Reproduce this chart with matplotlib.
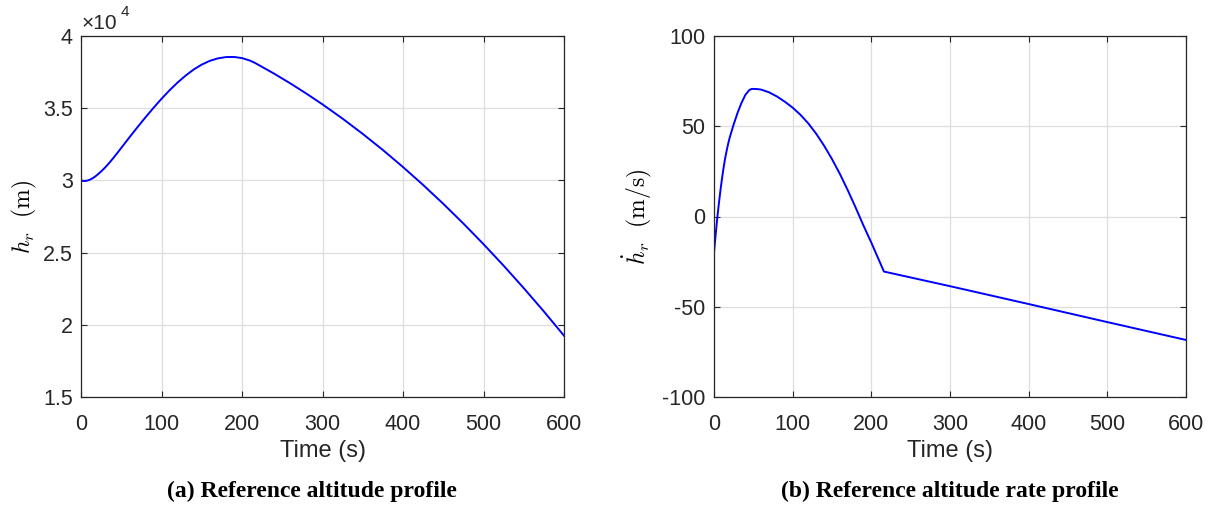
import numpy as np
import matplotlib.pyplot as plt
from matplotlib.ticker import FuncFormatter

plt.rcParams['mathtext.fontset'] = 'cm'
plt.rcParams['font.family'] = 'Liberation Sans'
plt.rcParams['axes.unicode_minus'] = False

# reference altitude h_r (m) vs time (s)
t_alt = [0, 2, 4, 6, 8, 10, 12, 14, 16, 18, 20, 25, 30, 35, 40, 45, 50, 55, 60,
         70, 80, 90, 100, 110, 120, 130, 140, 150, 160, 170, 180, 190, 200,
         210, 216, 240, 260, 280, 300, 325, 350, 375, 400, 425, 450, 475, 500,
         525, 550, 575, 600]
h_alt = [30000, 29970, 29959, 29966, 29989, 30026, 30075, 30136, 30207, 30287,
         30375, 30620, 30895, 31205, 31540, 31890, 32250, 32610, 32970, 33675,
         34360, 35020, 35650, 36240, 36780, 37260, 37680, 38020, 38280, 38450,
         38540, 38550, 38470, 38295, 38140, 37390, 36720, 36010, 35265, 34275,
         33220, 32105, 30925, 29685, 28380, 27015, 25585, 24095, 22540, 20925,
         19245]

# reference altitude rate hdot_r (m/s) vs time (s)
t_rate = [0, 2, 4, 6, 8, 10, 12, 14, 16, 18, 20, 25, 30, 35, 40, 45, 48, 55,
          60, 70, 80, 90, 100, 110, 120, 130, 140, 150, 160, 170, 180, 190,
          200, 210, 216, 300, 400, 500, 600]
h_rate = [-20, -10.5, -1.5, 6.5, 13.8, 20.5, 26.5, 31.8, 36.3, 40.3, 43.8, 51,
          57.5, 63, 67.5, 70.1, 70.7, 70.6, 70.3, 68.8, 66.5, 63.6, 60.3, 56.3,
          51.5, 45.8, 39.2, 31.8, 23.6, 14.6, 5, -5, -14.5, -24.5, -30.5,
          -38.6, -48.5, -58.5, -68.4]

fig = plt.figure(figsize=(12.08, 5.08), dpi=100)
ax1 = fig.add_axes([81 / 1208, 111 / 508, 483 / 1208, 361 / 508])
ax2 = fig.add_axes([714 / 1208, 111 / 508, 472 / 1208, 361 / 508])

dark = '#262626'
for ax in (ax1, ax2):
    ax.grid(True, color='#dedede', linewidth=0.9)
    ax.set_axisbelow(True)
    ax.tick_params(direction='in', top=True, right=True, length=4,
                   width=0.8, color=dark, labelsize=15.5, labelcolor=dark)
    ax.tick_params(axis='x', pad=12)
    ax.tick_params(axis='y', pad=6)
    for s in ax.spines.values():
        s.set_color(dark)
        s.set_linewidth(0.9)
    ax.set_xlim(0, 600)
    ax.set_xticks(np.arange(0, 601, 100))
    ax.set_xlabel('Time (s)', fontsize=17, color=dark, labelpad=4)

ax1.plot(t_alt, h_alt, color='#0000ff', linewidth=1.4)
ax1.set_ylim(15000, 40000)
ax1.set_yticks(np.arange(15000, 40001, 5000))
ax1.yaxis.set_major_formatter(FuncFormatter(lambda v, p: f'{v / 1e4:g}'))
ax1.set_ylabel(r'$h_r\ \ \mathrm{(m)}$', fontsize=17, labelpad=3)

# exponent marker above the y axis
ax1.text(0.002, 1.008, '\u00d710', transform=ax1.transAxes, fontsize=15,
         color=dark, ha='left', va='bottom')
ax1.text(0.082, 1.048, '4', transform=ax1.transAxes, fontsize=11,
         color=dark, ha='left', va='bottom')

ax2.plot(t_rate, h_rate, color='#0000ff', linewidth=1.4)
ax2.set_ylim(-100, 100)
ax2.set_yticks(np.arange(-100, 101, 50))
ax2.set_ylabel(r'$\dot{h}_r\ \ \mathrm{(m/s)}$', fontsize=17, labelpad=6)

cap = dict(fontsize=17, fontweight='bold', family='Liberation Serif',
           ha='center', va='center')
fig.text(312 / 1208, 1 - 491 / 508, '(a) Reference altitude profile', **cap)
fig.text(950 / 1208, 1 - 491 / 508, '(b) Reference altitude rate profile', **cap)

fig.savefig('out.png', dpi=100)
